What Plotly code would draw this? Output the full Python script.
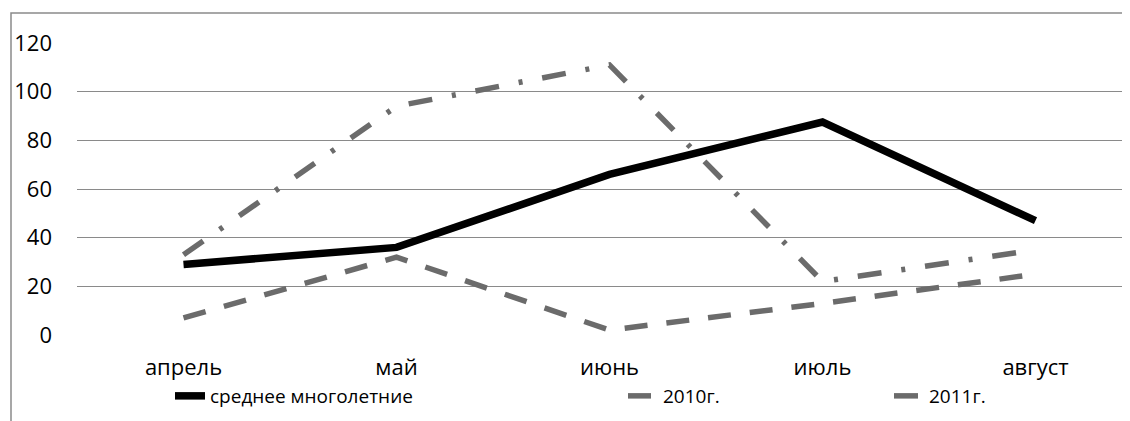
import plotly.graph_objects as go

months = ["апрель", "май", "июнь", "июль", "август"]
avg_long = [29, 36, 66, 87.5, 47]
y2010 = [7, 32, 2, 13, 25]
y2011 = [33, 94, 111, 22, 35]
y_ticks = [0, 20, 40, 60, 80, 100, 120]

FONT = "Open Sans"
FS = 22
LFS = 19
GRAY = "#6b6b6b"

fig = go.Figure()
fig.add_trace(go.Scatter(x=months, y=avg_long, mode="lines", name="среднее многолетние",
                         line=dict(color="#000000", width=7.5), legend="legend"))
fig.add_trace(go.Scatter(x=months, y=y2010, mode="lines", name="2010г.",
                         line=dict(color=GRAY, width=5.5, dash="23px,19px"), legend="legend2"))
fig.add_trace(go.Scatter(x=months, y=y2011, mode="lines", name="2011г.",
                         line=dict(color=GRAY, width=5.5, dash="24px,20px,4px,20px"), legend="legend3"))

# page body has an 8px margin: work in page pixels and subtract it
OFF = 8
W, H = 1130, 421
L = 77 - OFF
T = 43 - OFF
B = H - (335 - OFF)
R = W - (1130 - OFF)
pw, ph = W - L - R, H - T - B

def px_x(px):
    return (px - OFF - L) / pw

def px_y(py):
    return (H - B - (py - OFF)) / ph

def cx(px):
    return (px - OFF) / W

def cy(py):
    return (H - (py - OFF)) / H

leg_common = dict(orientation="h", yanchor="middle", xanchor="left",
                  xref="container", yref="container",
                  font=dict(family=FONT, size=LFS, color="#000"),
                  bgcolor="rgba(0,0,0,0)", borderwidth=0)

fig.update_layout(
    width=W, height=H,
    margin=dict(l=L, r=R, t=T, b=B, pad=0, autoexpand=False),
    paper_bgcolor="white", plot_bgcolor="white",
    font=dict(family=FONT, size=FS, color="#000"),
    xaxis=dict(range=[-0.5, -0.5 + pw / 213.0], showgrid=False, showline=False,
               zeroline=False, ticks="", ticklabelstandoff=17, automargin=False,
               tickfont=dict(family=FONT, size=FS, color="#000")),
    yaxis=dict(range=[0, 120], tickvals=y_ticks, showgrid=True, gridcolor="#8a8a8a",
               gridwidth=1, zeroline=False, showline=False, ticks="",
               ticklabelstandoff=24, automargin=False,
               tickfont=dict(family=FONT, size=FS, color="#000")),
    legend=dict(x=cx(170), y=cy(396), **leg_common),
    legend2=dict(x=cx(623), y=cy(396), **leg_common),
    legend3=dict(x=cx(889), y=cy(396), **leg_common),
    showlegend=True,
    shapes=[dict(type="rect", xref="paper", yref="paper",
                 x0=px_x(11), x1=px_x(1145), y0=px_y(440), y1=px_y(13),
                 line=dict(color="#8a8a8a", width=1.5), layer="below")],
)

fig.write_html("out.html")
